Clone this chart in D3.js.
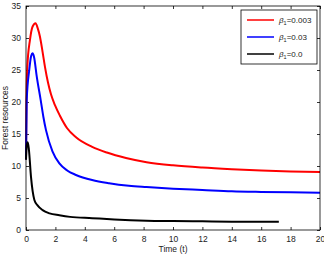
<!DOCTYPE html>
<html>
<head>
<meta charset="utf-8">
<script src="https://cdn.jsdelivr.net/npm/d3@7"></script>
<style>
  body { margin: 0; background: #fff; }
  text { font-family: "Liberation Sans", Arial, sans-serif; }
</style>
</head>
<body>
<div class="canvas"></div>
<script>
// data
const tRed = [0, 0.03, 0.09, 0.27, 0.45, 0.65, 0.8, 0.95, 1.13, 1.29, 1.5, 1.7, 1.97, 2.3, 2.8, 3.4, 4.5, 5.5, 6.8, 8.2, 10, 12, 14, 16, 18, 20];
const yRed = [11, 20, 25.5, 29.7, 31.8, 32.3, 31.5, 30.2, 27.8, 25.5, 23, 21.2, 19.5, 17.9, 15.9, 14.5, 13.0, 12.1, 11.25, 10.6, 10.1, 9.75, 9.5, 9.3, 9.15, 9.06];

const tBlue = [0, 0.05, 0.22, 0.35, 0.45, 0.55, 0.73, 1.0, 1.18, 1.36, 1.8, 2.27, 2.8, 3.4, 4.5, 5.65, 7, 8.2, 10, 12, 14, 16, 18, 20];
const yBlue = [11, 20.3, 25, 27.2, 27.6, 27.0, 24, 20.3, 17.7, 15.6, 12.3, 10.4, 9.3, 8.6, 7.8, 7.3, 6.9, 6.7, 6.45, 6.25, 6.05, 5.95, 5.88, 5.83];

const tBlack = [0, 0.05, 0.12, 0.2, 0.34, 0.57, 0.8, 1.13, 1.6, 2.27, 3, 4.5, 6, 8.2, 10, 12, 14, 17.2];
const yBlack = [11, 13.2, 13.7, 12.5, 8.3, 4.7, 3.8, 3.1, 2.6, 2.3, 2.05, 1.85, 1.65, 1.46, 1.4, 1.35, 1.3, 1.27];

const seriesNames = ['0.003', '0.03', '0.0'];
const seriesColors = ['#ff0000', '#0000ff', '#000000'];
const xTicks = [0, 2, 4, 6, 8, 10, 12, 14, 16, 18, 20];
const yTicks = [0, 5, 10, 15, 20, 25, 30, 35];

const series = [
    tRed.map((t, i) => ({t, v: yRed[i]})),
    tBlue.map((t, i) => ({t, v: yBlue[i]})),
    tBlack.map((t, i) => ({t, v: yBlack[i]}))
];

const margin = {left: 26, top: 6, right: 4, bottom: 24};
const W = 324, H = 254;
const iw = W - margin.left - margin.right;
const ih = H - margin.top - margin.bottom;

const svg = d3.select('.canvas')
                .append('svg')
                .attr('width', W)
                .attr('height', H);

const graph = svg.append('g')
                .attr('transform', `translate(${margin.left}, ${margin.top})`);

const x = d3.scaleLinear().domain([0, 20]).range([0, iw]);
const y = d3.scaleLinear().domain([0, 35]).range([ih, 0]);

const line = d3.line()
                .x(d => x(d.t))
                .y(d => y(d.v))
                .curve(d3.curveMonotoneX);

// axes, ticks inside like matlab
const axisStyle = (g) => {
    g.select('.domain').remove();
    g.selectAll('line').attr('stroke', '#000').attr('stroke-width', 0.8);
    g.selectAll('text').attr('font-size', 8.5).attr('fill', '#222');
};

graph.append('g')
    .attr('transform', `translate(0, ${ih})`)
    .call(d3.axisBottom(x).tickValues(xTicks).tickSize(-3).tickPadding(6))
    .call(axisStyle);

graph.append('g')
    .call(d3.axisTop(x).tickValues(xTicks).tickSize(-3).tickFormat(''))
    .call(axisStyle);

graph.append('g')
    .call(d3.axisLeft(y).tickValues(yTicks).tickSize(-3).tickPadding(5))
    .call(axisStyle);

graph.append('g')
    .attr('transform', `translate(${iw}, 0)`)
    .call(d3.axisRight(y).tickValues(yTicks).tickSize(-3).tickFormat(''))
    .call(axisStyle);

// curves
graph.selectAll('path.curve')
    .data(series)
    .enter()
    .append('path')
    .attr('class', 'curve')
    .attr('d', line)
    .attr('fill', 'none')
    .attr('stroke', (d, i) => seriesColors[i])
    .attr('stroke-width', 2);

graph.append('rect')
    .attr('width', iw)
    .attr('height', ih)
    .attr('fill', 'none')
    .attr('stroke', '#000')
    .attr('stroke-width', 0.8);

// labels
svg.append('text')
    .attr('x', margin.left + iw / 2)
    .attr('y', 252)
    .attr('text-anchor', 'middle')
    .attr('font-size', 8.5)
    .attr('fill', '#222')
    .text('Time (t)');

svg.append('text')
    .attr('transform', `translate(8, ${margin.top + ih / 2}) rotate(-90)`)
    .attr('text-anchor', 'middle')
    .attr('font-size', 8.5)
    .attr('fill', '#222')
    .text('Forest resources');

// legend
const legendGroup = svg.append('g')
                    .attr('transform', 'translate(241, 10)');

legendGroup.append('rect')
    .attr('width', 76)
    .attr('height', 54)
    .attr('fill', '#fff')
    .attr('stroke', '#000')
    .attr('stroke-width', 0.8);

const items = legendGroup.selectAll('g.item')
    .data(seriesNames)
    .enter()
    .append('g')
    .attr('class', 'item')
    .attr('transform', (d, i) => `translate(0, ${10 + i * 17})`);

items.append('line')
    .attr('x1', 6).attr('x2', 33)
    .attr('stroke', (d, i) => seriesColors[i])
    .attr('stroke-width', 1.5);

const label = items.append('text')
    .attr('x', 38)
    .attr('y', 3)
    .attr('font-size', 8)
    .attr('fill', '#222');

label.append('tspan').attr('font-style', 'italic').text('β');
label.append('tspan').attr('font-size', 5.5).attr('dy', 2).text('1');
label.append('tspan').attr('dy', -2).text(d => '=' + d);
</script>
</body>
</html>
